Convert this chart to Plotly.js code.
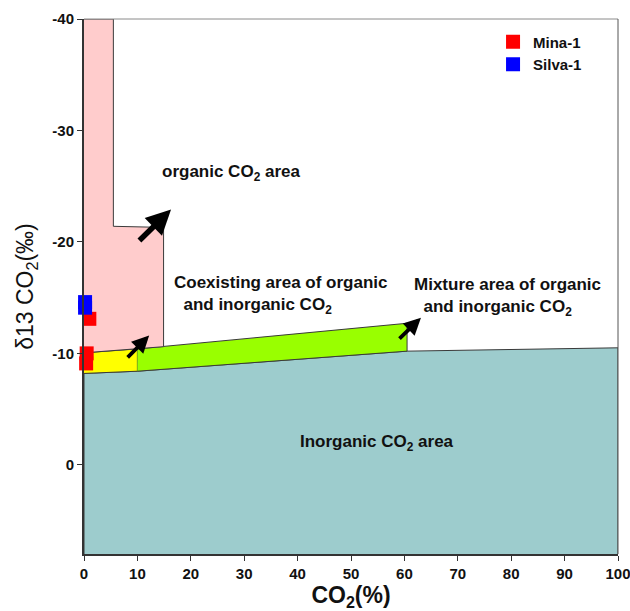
<!DOCTYPE html>
<html>
<head>
<meta charset="utf-8">
<script src="https://cdn.plot.ly/plotly-3.0.1.min.js"></script>
<style>
  html, body { margin: 0; padding: 0; background: #fff; }
  #chart { width: 630px; height: 611px; }
</style>
</head>
<body>
<div id="chart"></div>
<script>
// Region outlines: CO2 (%) vs delta13 CO2 (permil)
const inorganicX = [0, 0, 10, 60.5, 100, 100];
const inorganicY = [8, -8.2, -8.4, -10.2, -10.5, 8];

const coexistX = [0, 10, 10, 0];
const coexistY = [-8.2, -8.4, -10.4, -10.05];

const mixtureX = [10, 60.5, 60.5, 10];
const mixtureY = [-8.4, -10.2, -12.7, -10.4];

const organicX = [0, 5.5, 5.5, 14.9, 14.9, 0];
const organicY = [-40, -40, -21.4, -21.3, -10.6, -10.05];

// Well samples
const minaX = [1.0, 0.5, 0.4];
const minaY = [-13.1, -10.0, -9.1];
const silvaX = [0.2, 0.2];
const silvaY = [-14.6, -14.1];

// Axis ticks
const xTicks = [0, 10, 20, 30, 40, 50, 60, 70, 80, 90, 100];
const yTicks = [-40, -30, -20, -10, 0];
const yTickText = ['-40', '-30', '-20', '-10', '0'];

// Arrows: [tailX, tailY, headX, headY]
const arrowOrganic = [10.1, -20.0, 16.3, -22.9];
const arrowCoexist = [7.9, -9.5, 12.2, -11.6];
const arrowMixture = [58.8, -11.2, 63.1, -13.2];

const FONT = 'Liberation Sans, Arial, sans-serif';
const outline = { color: '#3a3a3a', width: 1 };

function region(x, y, fill) {
  return {
    x: x, y: y, type: 'scatter', mode: 'lines', fill: 'toself',
    fillcolor: fill, line: outline, showlegend: false, hoverinfo: 'skip'
  };
}

const traces = [
  region(inorganicX, inorganicY, '#9dcccd'),
  region(coexistX, coexistY, '#ffff00'),
  region(mixtureX, mixtureY, '#99ff00'),
  region(organicX, organicY, '#ffcccc'),
  {
    x: minaX, y: minaY, name: 'Mina-1', type: 'scatter', mode: 'markers',
    cliponaxis: false,
    marker: { symbol: 'square', size: 14, color: '#ff0000', line: { width: 0 } }
  },
  {
    x: silvaX, y: silvaY, name: 'Silva-1', type: 'scatter', mode: 'markers',
    cliponaxis: false,
    marker: { symbol: 'square', size: 14, color: '#0000ff', line: { width: 0 } }
  }
];

function arrow(a, w, s) {
  return {
    x: a[2], y: a[3], ax: a[0], ay: a[1], xref: 'x', yref: 'y', axref: 'x', ayref: 'y',
    text: '', showarrow: true, arrowhead: 2, arrowwidth: w, arrowsize: s,
    arrowcolor: '#000', standoff: 0, startstandoff: 0
  };
}

function label(text, x, y, anchor) {
  return {
    x: x, y: y, xref: 'x', yref: 'y', text: text, showarrow: false,
    xanchor: anchor || 'center', align: anchor || 'center',
    font: { family: FONT, size: 17, color: '#111', weight: 'bold' }
  };
}

const layout = {
  width: 630, height: 611,
  margin: { l: 84, r: 12, t: 19, b: 57 },
  paper_bgcolor: '#fff', plot_bgcolor: '#fff',
  font: { family: FONT, color: '#111' },
  xaxis: {
    range: [0, 100], tickvals: xTicks, ticks: 'outside', ticklen: 5, tickcolor: '#333',
    ticklabeloverflow: 'allow',
    showgrid: false, zeroline: false, showline: true, linecolor: '#333', linewidth: 2,
    tickfont: { family: FONT, size: 15, weight: 'bold', color: '#111' },
    title: { text: 'CO<sub>2</sub>(%)', standoff: 10, font: { family: FONT, size: 23, weight: 'bold', color: '#111' } }
  },
  yaxis: {
    range: [8, -40], tickvals: yTicks, ticktext: yTickText, ticks: 'outside', ticklen: 5, tickcolor: '#333',
    showgrid: false, zeroline: false, showline: true, linecolor: '#333', linewidth: 2,
    tickfont: { family: FONT, size: 15, weight: 'bold', color: '#111' },
    title: { text: '\u03b413 CO<sub>2</sub>(\u2030)', standoff: 12, font: { family: FONT, size: 23, color: '#111' } }
  },
  shapes: [
    { type: 'line', xref: 'paper', yref: 'paper', x0: 0, x1: 1, y0: 1, y1: 1, line: { color: '#8a8a8a', width: 1 } },
    { type: 'line', xref: 'paper', yref: 'paper', x0: 1, x1: 1, y0: 0, y1: 1, line: { color: '#555', width: 1 } }
  ],
  legend: {
    x: 0.766, y: 0.988, xanchor: 'left', yanchor: 'top', bgcolor: 'rgba(0,0,0,0)',
    font: { family: FONT, size: 15, weight: 'bold', color: '#111' }, tracegroupgap: 0
  },
  annotations: [
    arrow(arrowOrganic, 5.5, 0.9),
    arrow(arrowCoexist, 3.8, 0.9),
    arrow(arrowMixture, 3.8, 0.9),
    label('organic CO<sub>2</sub> area', 27.6, -26.2),
    label('Coexisting area of organic<br>  and inorganic CO<sub>2</sub>', 16.4, -15.2, 'left'),
    label('Mixture area of organic<br>  and inorganic CO<sub>2</sub>', 61.5, -15.1, 'left'),
    label('Inorganic CO<sub>2</sub> area', 54.9, -2.0)
  ]
};

Plotly.newPlot('chart', traces, layout, { displayModeBar: false, staticPlot: true });
</script>
</body>
</html>
